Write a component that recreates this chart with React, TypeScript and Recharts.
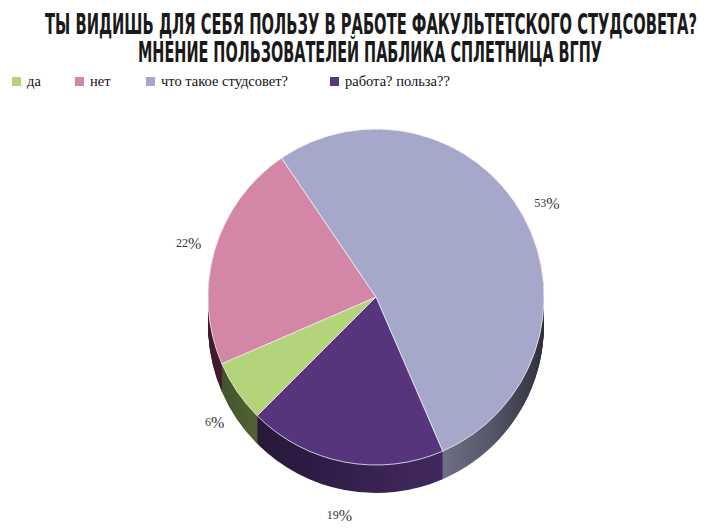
import React from "react";
import { PieChart, Pie, Cell } from "recharts";

const categories = ["да", "нет", "что такое студсовет?", "работа? польза??"];
const values = [6, 22, 53, 19];
const topColors = ["#b3d47a", "#d486a6", "#a5a8cb", "#56357c"];
const sideGradIds = ["sideGreen", "sidePink", "sideLav", "sidePurple"];
const titleLines = [
  "ТЫ ВИДИШЬ ДЛЯ СЕБЯ ПОЛЬЗУ В РАБОТЕ ФАКУЛЬТЕТСКОГО СТУДСОВЕТА?",
  "МНЕНИЕ ПОЛЬЗОВАТЕЛЕЙ ПАБЛИКА СПЛЕТНИЦА ВГПУ",
];

const data = categories.map((name, i) => ({ name, value: values[i] }));

const CX = 376;
const CY = 297;
const R = 168;
const DEPTH = 28;
const START = -135;
const layers = Array.from({ length: DEPTH }, (_, i) => DEPTH - i);
const RAD = Math.PI / 180;
const SERIF = "'Liberation Serif', 'Times New Roman', serif";
const TITLE_FONT = "'Liberation Sans Narrow', 'DejaVu Sans Condensed', 'Roboto', sans-serif";

const renderLabel = (props: any) => {
  const { cx, cy, midAngle, outerRadius, value } = props;
  const r = outerRadius + 27;
  const s = Math.sin(-midAngle * RAD);
  const x = cx + r * Math.cos(-midAngle * RAD);
  const y = cy + r * s + DEPTH * Math.max(0, s) * 0.95;
  return (
    <text
      x={x}
      y={y}
      textAnchor="middle"
      dominantBaseline="central"
      fill="#333"
      fontFamily={SERIF}
    >
      <tspan fontSize={12}>{value}</tspan>
      <tspan fontSize={16}>%</tspan>
    </text>
  );
};

const legendXs = [12, 75, 146, 330];

export default function App() {
  return (
    <div
      style={{
        position: "absolute",
        left: 0,
        top: 0,
        width: 723,
        height: 531,
        background: "#fff",
        overflow: "hidden",
      }}
    >
      <svg
        width={723}
        height={70}
        style={{ position: "absolute", left: 0, top: 0 }}
      >
        <text
          x={45}
          y={34}
          textLength={652}
          lengthAdjust="spacingAndGlyphs"
          fontFamily={TITLE_FONT}
          fontWeight="bold"
          fontSize={27.5}
          fill="#1a1a1a"
        >
          {titleLines[0]}
        </text>
        <text
          x={138}
          y={62}
          textLength={464}
          lengthAdjust="spacingAndGlyphs"
          fontFamily={TITLE_FONT}
          fontWeight="bold"
          fontSize={27.5}
          fill="#1a1a1a"
        >
          {titleLines[1]}
        </text>
      </svg>
      <div style={{ position: "absolute", left: 0, top: 73, width: 723, height: 16 }}>
        {categories.map((c, i) => (
          <div
            key={c}
            style={{
              position: "absolute",
              left: legendXs[i],
              top: 0,
              height: 16,
              display: "flex",
              alignItems: "center",
              whiteSpace: "nowrap",
            }}
          >
            <span
              style={{
                display: "inline-block",
                width: 9,
                height: 9,
                background: topColors[i],
                marginRight: 6,
              }}
            />
            <span
              style={{
                fontFamily: SERIF,
                fontSize: 14.5,
                color: "#111",
                lineHeight: "16px",
              }}
            >
              {c}
            </span>
          </div>
        ))}
      </div>
      <div style={{ position: "absolute", left: 0, top: 0 }}>
        <PieChart width={723} height={531} margin={{ top: 0, right: 0, bottom: 0, left: 0 }}>
          <defs>
            <linearGradient id="sideGreen" gradientUnits="userSpaceOnUse" x1={208} y1={0} x2={544} y2={0}>
              <stop offset="0" stopColor="#3e4e26" />
              <stop offset="0.2" stopColor="#56693a" />
              <stop offset="1" stopColor="#5a6e3c" />
            </linearGradient>
            <linearGradient id="sidePink" gradientUnits="userSpaceOnUse" x1={208} y1={0} x2={544} y2={0}>
              <stop offset="0" stopColor="#3e1c2c" />
              <stop offset="1" stopColor="#8a4a64" />
            </linearGradient>
            <linearGradient id="sideLav" gradientUnits="userSpaceOnUse" x1={208} y1={0} x2={544} y2={0}>
              <stop offset="0" stopColor="#8888a0" />
              <stop offset="0.7" stopColor="#6e6e84" />
              <stop offset="0.85" stopColor="#55556a" />
              <stop offset="1" stopColor="#30303c" />
            </linearGradient>
            <linearGradient id="sidePurple" gradientUnits="userSpaceOnUse" x1={208} y1={0} x2={544} y2={0}>
              <stop offset="0" stopColor="#22142f" />
              <stop offset="0.3" stopColor="#2e1b44" />
              <stop offset="0.6" stopColor="#3e2659" />
              <stop offset="1" stopColor="#482a6a" />
            </linearGradient>
          </defs>
          {layers.map((off) => (
            <Pie
              key={`side-${off}`}
              data={data}
              dataKey="value"
              nameKey="name"
              cx={CX}
              cy={CY + off}
              outerRadius={R}
              startAngle={START}
              endAngle={START - 360}
              stroke="none"
              legendType="none"
              isAnimationActive={false}
            >
              {data.map((d, i) => (
                <Cell key={d.name} fill={`url(#${sideGradIds[i]})`} />
              ))}
            </Pie>
          ))}
          <Pie
            data={data}
            dataKey="value"
            nameKey="name"
            cx={CX}
            cy={CY}
            outerRadius={R}
            startAngle={START}
            endAngle={START - 360}
            stroke="#f2f2f7"
            strokeWidth={0.8}
            label={renderLabel}
            labelLine={false}
            isAnimationActive={false}
          >
            {data.map((d, i) => (
              <Cell key={d.name} fill={topColors[i]} />
            ))}
          </Pie>
        </PieChart>
      </div>
    </div>
  );
}
